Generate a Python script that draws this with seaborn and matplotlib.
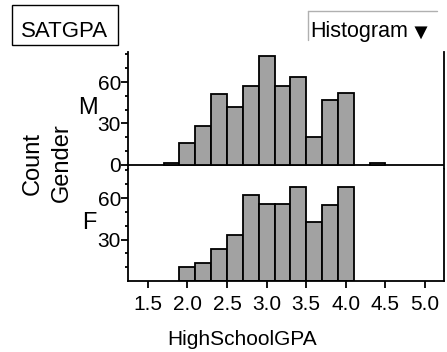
import numpy as np
import matplotlib
matplotlib.use("Agg")
import matplotlib.pyplot as plt
from matplotlib.patches import Rectangle
from matplotlib.lines import Line2D
import seaborn as sns

sns.set_style("ticks")
plt.rcParams['font.family'] = ['Liberation Sans', 'DejaVu Sans']
plt.rcParams['text.color'] = 'black'
plt.rcParams['xtick.color'] = 'black'
plt.rcParams['ytick.color'] = 'black'
plt.rcParams['axes.edgecolor'] = 'black'

# histogram bins (width 0.2) and counts
bin_edges = [1.7, 1.9, 2.1, 2.3, 2.5, 2.7, 2.9, 3.1, 3.3, 3.5, 3.7, 3.9, 4.1, 4.3, 4.5]
count_m = [1, 16, 28, 51, 42, 57, 79, 57, 64, 20, 47, 52, 0, 1]
count_f = [0, 10, 13, 23, 33, 62, 56, 56, 68, 43, 55, 68, 0, 0]
genders = ["M", "F"]
x_ticks = [1.5, 2.0, 2.5, 3.0, 3.5, 4.0, 4.5, 5.0]
x_ticklabels = ["1.5", "2.0", "2.5", "3.0", "3.5", "4.0", "4.5", "5.0"]
y_major = [0, 30, 60]
y_minor = [10, 20, 40, 50, 70, 80]

centers = [(a + b) / 2 for a, b in zip(bin_edges[:-1], bin_edges[1:])]

W, H = 447, 352
fig = plt.figure(figsize=(W / 100, H / 100), dpi=100)

def px_axes(left, top, right, bottom):
    return fig.add_axes([left / W, 1 - bottom / H, (right - left) / W, (bottom - top) / H])

ax_m = px_axes(128, 51.7, 444, 169)
ax_f = px_axes(128, 169, 444, 281)

for ax, counts, ylim in [(ax_m, count_m, (-3, 82)), (ax_f, count_f, (0, 81))]:
    sns.histplot(x=centers, weights=counts, bins=bin_edges, ax=ax,
                 color="#A2A2A2", edgecolor="black", linewidth=1.3, alpha=1)
    for p in list(ax.patches):
        if p.get_height() == 0:
            p.remove()
    ax.set_xlim(1.25, 5.24)
    ax.set_ylim(*ylim)
    ax.set_xlabel("")
    ax.set_ylabel("")
    ax.spines['top'].set_visible(False)
    for s in ['left', 'right', 'bottom']:
        ax.spines[s].set_linewidth(1.3)
    ax.set_yticks([v for v in y_major if v >= ylim[0] and (ax is ax_m or v > 0)])
    ax.set_yticks(y_minor, minor=True)
    ax.tick_params(axis='y', which='major', length=5, width=1.3, labelsize=15, pad=0)
    ax.tick_params(axis='y', which='minor', length=2.5, width=1.3)

# top panel: zero line instead of a bottom spine, no x ticks
ax_m.spines['bottom'].set_visible(False)
ax_m.axhline(0, color="black", lw=1.3, zorder=0.5)
ax_m.set_xticks([])

ax_f.set_xticks(x_ticks)
ax_f.set_xticklabels(x_ticklabels)
ax_f.tick_params(axis='x', length=5, width=1.3, labelsize=15, pad=5)

def px_text(x, y, s, **kw):
    fig.text(x / W, 1 - y / H, s, **kw)

px_text(88, 108, genders[0], fontsize=17, ha="center", va="center")
px_text(89, 223, genders[1], fontsize=17, ha="center", va="center")
px_text(33, 164, "Count", fontsize=17, rotation=90, ha="center", va="center")
px_text(62, 163, "Gender", fontsize=17, rotation=90, ha="center", va="center")
px_text(242, 345, "HighSchoolGPA", fontsize=15, ha="center", va="baseline")

# title box
fig.add_artist(Rectangle((12 / W, 1 - 45 / H), 106 / W, 40 / H, transform=fig.transFigure,
                         fill=False, edgecolor="black", lw=1))
px_text(65, 37, "SATGPA", fontsize=16, ha="center", va="baseline")

# "Histogram" dropdown button
fig.add_artist(Line2D([308 / W, 308 / W], [1 - 40 / H, 1 - 11 / H], transform=fig.transFigure,
                      color="#B0B0B0", lw=1))
fig.add_artist(Line2D([308 / W, 437 / W], [1 - 11 / H, 1 - 11 / H], transform=fig.transFigure,
                      color="#B0B0B0", lw=1))
px_text(310, 36.5, "Histogram", fontsize=15.5, ha="left", va="baseline")
px_text(421, 33, "▼", fontsize=16, ha="center", va="center")

fig.savefig("out.png", dpi=100)
